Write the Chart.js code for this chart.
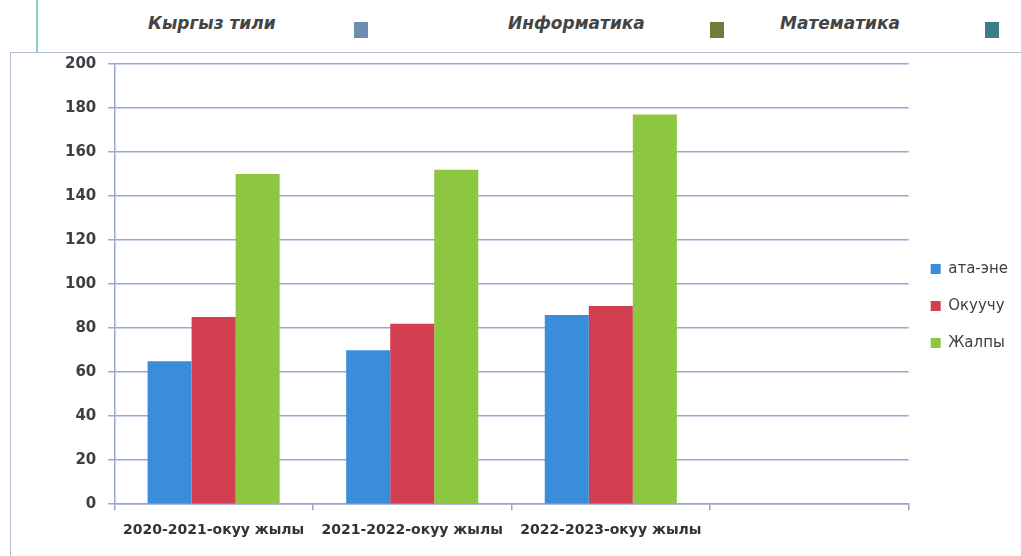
<!DOCTYPE html>
<html>
<head>
<meta charset="utf-8">
<script src="https://cdn.jsdelivr.net/npm/chart.js@4.4.1/dist/chart.umd.min.js"></script>
<style>
  body { margin: 0; background: #fff; width: 1021px; height: 556px; overflow: hidden; position: relative; font-family: "DejaVu Sans", sans-serif; }
  .vline { position: absolute; left: 36px; top: 0; width: 2px; height: 52px; background: #86d3c9; }
  .subj { position: absolute; top: 13px; font-size: 17px; font-weight: bold; font-style: italic; color: #444; white-space: nowrap; }
  .sq { position: absolute; top: 22px; width: 14px; height: 16px; }
  #frame { position: absolute; left: 10px; top: 52px; width: 1011px; height: 504px; border-top: 1.5px solid #b4bccf; border-left: 1.5px solid #b4bccf; box-sizing: border-box; }
  #chart { position: absolute; left: 10px; top: 43px; }
</style>
</head>
<body>
<div class="vline"></div>
<div class="subj" style="left:148px">Кыргыз тили</div>
<div class="sq" style="left:354px;background:#6e8db3"></div>
<div class="subj" style="left:508px">Информатика</div>
<div class="sq" style="left:710px;background:#6f7d3c"></div>
<div class="subj" style="left:780px">Математика</div>
<div class="sq" style="left:985px;background:#3e7e8b"></div>

<div id="frame"></div>
<canvas id="chart" width="1010" height="512"></canvas>

<script>
// categories (4th slot is empty in the original)
const years = ['2020-2021-окуу жылы', '2021-2022-окуу жылы', '2022-2023-окуу жылы', ''];

// series
const parents = [65, 70, 86, null];
const students = [85, 82, 90, null];
const total = [150, 152, 177, null];

const gridColor = '#9aa5cc';

const ctx = document.getElementById('chart').getContext('2d');
const chart = new Chart(ctx, {
    type: 'bar',
    data: {
        labels: years,
        datasets: [
            { label: 'ата-эне', data: parents, backgroundColor: '#3a8dd8' },
            { label: 'Окуучу', data: students, backgroundColor: '#d23f50' },
            { label: 'Жалпы', data: total, backgroundColor: '#8dc641' }
        ]
    },
    options: {
        responsive: false,
        animation: false,
        layout: {
            padding: { top: 3, left: 43, right: 2, bottom: 4 }
        },
        datasets: {
            bar: { barPercentage: 1.0, categoryPercentage: 0.665 }
        },
        scales: {
            x: {
                grid: { display: true, drawOnChartArea: false, drawTicks: true, tickLength: 6, color: gridColor, lineWidth: 1.5 },
                border: { color: gridColor, width: 1.5 },
                ticks: {
                    color: '#333',
                    font: { family: 'DejaVu Sans', size: 14, weight: 'bold' },
                    maxRotation: 0,
                    autoSkip: false,
                    padding: 12
                }
            },
            y: {
                min: 0,
                max: 200,
                grid: { color: gridColor, lineWidth: 1.5, tickLength: 6 },
                border: { color: gridColor, width: 1.5 },
                ticks: {
                    stepSize: 20,
                    color: '#404040',
                    font: { family: 'DejaVu Sans', size: 15, weight: 'bold' },
                    padding: 12
                }
            }
        },
        plugins: {
            legend: {
                position: 'right',
                // empty title only pushes the items down a little
                title: { display: true, text: ' ', font: { size: 10 }, padding: { top: 3, bottom: 0 } },
                labels: {
                    boxWidth: 10,
                    boxHeight: 10,
                    padding: 22,
                    color: '#404040',
                    font: { family: 'DejaVu Sans', size: 15 }
                }
            },
            tooltip: { enabled: false }
        }
    }
});
</script>
</body>
</html>
